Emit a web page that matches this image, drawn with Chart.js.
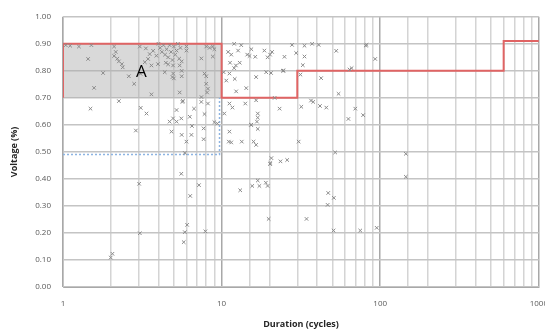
<!DOCTYPE html>
<html>
<head>
<meta charset="utf-8">
<script src="https://cdn.jsdelivr.net/npm/chart.js@4/dist/chart.umd.min.js"></script>
<style>
  html, body { margin: 0; padding: 0; background: #fff; overflow: hidden; }
  #wrap { width: 560px; height: 335px; }
</style>
</head>
<body>
<div id="wrap"><canvas id="chart"></canvas></div>
<script>
// --- DATA ---
const duration = [
  1.04,1.11,1.26,1.51,1.44,1.79,1.57,1.49,2.25,
  2.1,2.15,2.1,2.2,2.25,2.35,2.38,2.6,2.81,2.88,2.05,2.0,
  3.08,3.09,3.36,3.61,3.02,3.05,
  3.05,3.33,3.52,3.44,3.28,3.7,3.88,3.61,3.97,
  4.0,4.1,4.2,4.3,4.4,4.5,4.6,4.7,4.8,4.9,5.0,5.1,5.2,5.3,5.4,5.5,5.6,4.45,
  4.38,4.6,4.94,4.9,4.95,5.0,5.44,5.6,5.6,5.44,5.66,5.2,
  4.7,4.94,5.2,5.57,6.3,4.83,5.6,6.0,5.86,6.5,6.45,7.7,7.7,7.8,8.2,7.45,5.7,9.0,9.4,6.7,
  6.0,6.0,7.45,7.8,8.0,8.0,8.2,8.0,8.4,8.8,9.0,8.8,8.1,7.46,
  5.57,6.34,7.2,6.06,5.86,5.77,7.9,
  10.7,10.3,11.0,11.5,12.0,12.7,13.3,11.2,11.3,12.0,12.3,13.0,12.1,14.5,15.0,15.4,16.3,16.5,14.3,12.35,
  10.4,11.2,11.7,14.1,11.2,11.1,11.5,13.4,15.3,15.9,
  16.5,16.9,16.9,16.7,15.4,16.9,16.5,
  18.6,19.5,20.2,20.8,20.5,19.1,24.9,27.8,29.5,24.6,24.3,21.6,23.2,
  20.6,20.3,23.5,25.9,20.2,
  13.1,15.6,16.9,17.3,19.0,19.5,19.8,
  33.3,33.3,37.2,40.9,32.5,52.8,82,81,93,31.4,42.4,66,64,54.6,31.8,36.6,37.8,41.7,45.7,69.6,63,78,30.6,52,145,145,47,51,46.6,34.3,50.8,74.8,95
];
const voltage = [
  0.895,0.893,0.89,0.895,0.844,0.792,0.737,0.66,0.688,
  0.89,0.87,0.855,0.845,0.835,0.825,0.813,0.78,0.752,0.579,0.123,0.109,
  0.789,0.663,0.642,0.713,0.382,0.199,
  0.89,0.883,0.862,0.844,0.832,0.874,0.856,0.82,0.825,
  0.9,0.885,0.87,0.895,0.86,0.88,0.85,0.895,0.87,0.84,0.89,0.86,0.875,0.9,0.845,0.885,0.835,0.83,
  0.795,0.824,0.82,0.777,0.79,0.772,0.82,0.8,0.78,0.72,0.685,0.655,
  0.612,0.624,0.612,0.624,0.63,0.575,0.563,0.538,0.496,0.596,0.563,0.587,0.547,0.64,0.679,0.685,0.689,0.61,0.605,0.66,
  0.89,0.875,0.846,0.79,0.78,0.752,0.734,0.89,0.885,0.89,0.88,0.853,0.72,0.703,
  0.419,0.337,0.377,0.23,0.203,0.166,0.206,
  0.764,0.795,0.87,0.86,0.9,0.875,0.895,0.79,0.83,0.81,0.82,0.83,0.77,0.86,0.855,0.88,0.852,0.777,0.736,0.724,
  0.642,0.679,0.664,0.679,0.575,0.538,0.535,0.538,0.6,0.538,
  0.691,0.642,0.627,0.612,0.6,0.585,0.526,
  0.875,0.85,0.86,0.87,0.792,0.795,0.852,0.896,0.866,0.801,0.8,0.7,0.66,
  0.477,0.459,0.465,0.47,0.455,
  0.358,0.374,0.394,0.374,0.386,0.374,0.252,
  0.893,0.853,0.9,0.896,0.821,0.874,0.896,0.894,0.844,0.786,0.773,0.81,0.805,0.715,0.667,0.69,0.685,0.67,0.664,0.66,0.622,0.636,0.538,0.498,0.493,0.408,0.348,0.33,0.304,0.252,0.209,0.209,0.219
];

// region A box and the red limit curve
const boxX = [1, 10];
const boxBottom = [0.7, 0.7];
const boxTop = [0.9, 0.9];
const limitX = [1, 1, 10, 10, 30, 30, 600, 600, 1000];
const limitY = [0.7, 0.9, 0.9, 0.7, 0.7, 0.8, 0.8, 0.91, 0.91];
// blue dotted guide
const guideX = [1, 9.7, 9.7];
const guideY = [0.49, 0.49, 0.7];

const xTickLabels = [1, 10, 100, 1000];
const regionLabel = { text: "A", x: 3.12, y: 0.795 };

const zip = (xs, ys) => xs.map((x, i) => ({ x: x, y: ys[i] }));

// --- "A" LABEL PLUGIN ---
const labelPlugin = {
  id: "regionLabel",
  afterDatasetsDraw(chart) {
    const c = chart.ctx;
    const px = chart.scales.x.getPixelForValue(regionLabel.x);
    const py = chart.scales.y.getPixelForValue(regionLabel.y);
    c.save();
    c.font = "17px 'Open Sans', sans-serif";
    c.fillStyle = "#000";
    c.textAlign = "center";
    c.textBaseline = "middle";
    c.fillText(regionLabel.text, px, py);
    c.restore();
  }
};

const ctx = document.getElementById("chart").getContext("2d");
new Chart(ctx, {
  type: "scatter",
  data: {
    datasets: [
      {
        label: "events",
        data: zip(duration, voltage),
        pointStyle: "crossRot",
        pointRadius: 2.5,
        borderColor: "#8a8a8a",
        backgroundColor: "#8a8a8a",
        borderWidth: 1,
        order: 0
      },
      {
        label: "limit",
        data: zip(limitX, limitY),
        showLine: true,
        pointRadius: 0,
        borderColor: "#e06464",
        borderWidth: 2,
        order: 1
      },
      {
        label: "guide",
        data: zip(guideX, guideY),
        showLine: true,
        pointRadius: 0,
        borderColor: "#8db4e2",
        borderWidth: 1.5,
        borderDash: [2, 2],
        order: 1
      },
      {
        label: "boxBottom",
        data: zip(boxX, boxBottom),
        showLine: true,
        pointRadius: 0,
        borderWidth: 0,
        borderColor: "rgba(0,0,0,0)",
        order: 3
      },
      {
        label: "boxTop",
        data: zip(boxX, boxTop),
        showLine: true,
        pointRadius: 0,
        borderWidth: 0,
        borderColor: "rgba(0,0,0,0)",
        backgroundColor: "rgba(170,170,170,0.45)",
        fill: { target: 3 },
        order: 2
      }
    ]
  },
  options: {
    responsive: true,
    maintainAspectRatio: false,
    animation: false,
    layout: { padding: { top: 11, left: 0, right: 0, bottom: 0 } },
    plugins: {
      legend: { display: false },
      tooltip: { enabled: false }
    },
    scales: {
      x: {
        type: "logarithmic",
        min: 1,
        max: 1000,
        afterFit(scale) { scale.height = 48; },
        grid: {
          drawTicks: false,
          color: (c) => xTickLabels.includes(c.tick && c.tick.value) ? "#a8a8a8" : "#d4d4d4",
          lineWidth: 1.5
        },
        border: { color: "#a8a8a8" },
        ticks: {
          autoSkip: false,
          maxRotation: 0,
          padding: 12,
          color: "#595959",
          font: { family: "'Open Sans', sans-serif", size: 8 },
          callback: (v) => xTickLabels.includes(v) ? String(v) : ""
        },
        title: {
          display: true,
          text: "Duration (cycles)",
          color: "#262626",
          font: { family: "'Open Sans', sans-serif", size: 9, weight: "bold" },
          padding: { top: 0, bottom: 5 }
        }
      },
      y: {
        min: 0,
        max: 1,
        afterFit(scale) { scale.width = 63; },
        grid: { drawTicks: false, color: "#c4c4c4", lineWidth: 1.5 },
        border: { color: "#c4c4c4" },
        ticks: {
          stepSize: 0.1,
          padding: 12,
          color: "#595959",
          font: { family: "'Open Sans', sans-serif", size: 8 },
          callback: (v) => v.toFixed(2)
        },
        title: {
          display: true,
          text: "Voltage (%)",
          color: "#262626",
          font: { family: "'Open Sans', sans-serif", size: 9, weight: "bold" },
          padding: { top: 9, bottom: 0 }
        }
      }
    }
  },
  plugins: [labelPlugin]
});
</script>
</body>
</html>
